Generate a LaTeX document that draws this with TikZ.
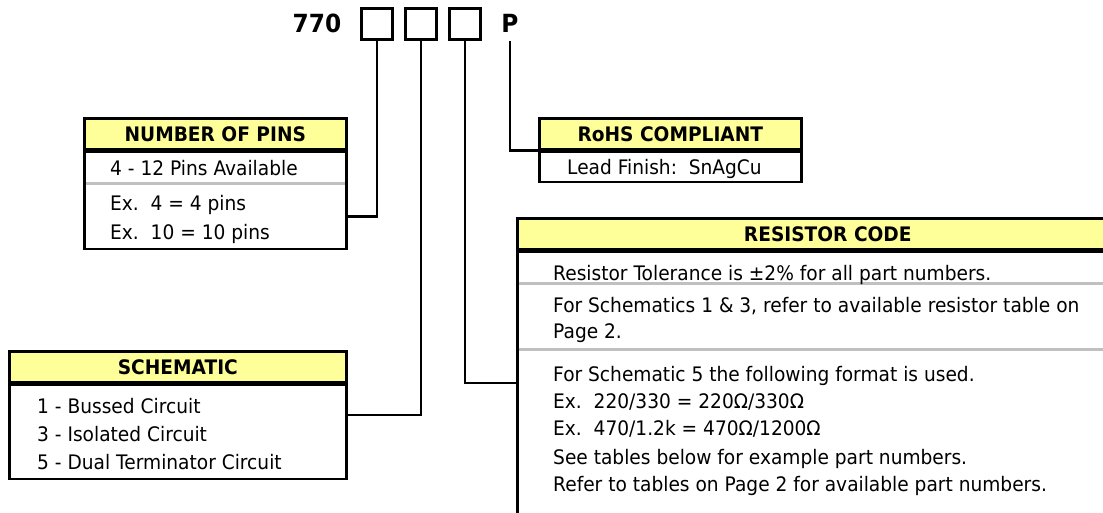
\documentclass[tikz,border=0pt]{standalone}
\usepackage{fontspec}
\setmainfont[FakeStretch=0.93]{DejaVu Sans}
\usetikzlibrary{positioning}
\usetikzlibrary{calc}

\definecolor{headyellow}{HTML}{FFFF99}
\definecolor{sepgray}{HTML}{C0C0C0}

\begin{document}
\begin{tikzpicture}[x=1pt, y=-1pt, node distance=0pt,
            every node/.style={font=\fontsize{20}{24}\selectfont},
            hdr/.style={draw=black, line width=2.6pt, fill=headyellow, rectangle, anchor=north west,
            minimum height=31pt, inner sep=0pt, text height=14.5pt, text depth=0pt,
            font=\fontsize{20}{24}\selectfont\bfseries},
            panel/.style={draw=black, line width=2.6pt, fill=white, rectangle, inner sep=0pt},
            slot/.style={draw=black, line width=2.6pt, rectangle, minimum size=31pt, inner sep=0pt},
            code/.style={inner xsep=0pt, text height=17pt, text depth=0pt,
            font=\fontsize{25}{30}\selectfont\bfseries},
            txt/.style={anchor=west, inner sep=0pt, text height=14.5pt, text depth=0pt},
            wire/.style={line width=2.8pt},
            divider/.style={draw=sepgray, line width=3pt, shorten <=2.6pt, shorten >=2.6pt}]
        \useasboundingbox (0,0) rectangle (1103,513);

        % part number row
        \node[code, inner ysep=0pt] (prefix) at (317,24) {770};
        \node[slot] (pins) at (377,24) {};
        \node[slot] (schem) at (421,24) {};
        \node[slot] (rcode) at (465,24) {};
        \node[code, inner ysep=8pt] (suffix) at (510,24) {P};

        % number of pins
        \node[hdr, minimum width=262pt] (pinshead) at (83,117) {NUMBER OF PINS};
        \node[panel, minimum width=262pt, minimum height=97pt, below=of pinshead] (pinsbody) {};
        \draw[divider] ([yshift=-33pt]pinsbody.north west) -- ([yshift=-33pt]pinsbody.north east);
        \node[txt] (pinsa) at (110,168) {4 - 12 Pins Available};
        \node[txt] (pinsb) at (110,203) {Ex.\ \ 4 = 4 pins};
        \node[txt] (pinsc) at (110,232) {Ex.\ \ 10 = 10 pins};

        % schematic
        \node[hdr, minimum width=337pt] (schemhead) at (8,350) {SCHEMATIC};
        \node[panel, minimum width=337pt, minimum height=94pt, below=of schemhead] (schembody) {};
        \node[txt] (schema) at (37,406) {1 - Bussed Circuit};
        \node[txt] (schemb) at (37,434) {3 - Isolated Circuit};
        \node[txt] (schemc) at (37,462) {5 - Dual Terminator Circuit};

        % rohs
        \node[hdr, minimum width=262pt] (rohshead) at (538,117) {RoHS COMPLIANT};
        \node[panel, minimum width=262pt, minimum height=30pt, below=of rohshead] (rohsbody) {};
        \node[txt] (rohsa) at (567,167) {Lead Finish:\ \ SnAgCu};

        % resistor code
        \node[hdr, minimum width=621pt] (rcodehead) at (516,217) {RESISTOR CODE};
        \node[panel, minimum width=621pt, minimum height=300pt, below=of rcodehead] (rcodebody) {};
        \draw[divider] ([yshift=-33pt]rcodebody.north west) -- ([yshift=-33pt]rcodebody.north east);
        \draw[divider] ([yshift=-99pt]rcodebody.north west) -- ([yshift=-99pt]rcodebody.north east);
        \node[txt] (rcodea) at (553,273) {Resistor Tolerance is ±2\% for all part numbers.};
        \node[txt] (rcodeb) at (553,305) {For Schematics 1 \& 3, refer to available resistor table on};
        \node[txt] (rcodec) at (553,331) {Page 2.};
        \node[txt] (rcoded) at (553,374) {For Schematic 5 the following format is used.};
        \node[txt] (rcodee) at (553,401) {Ex.\ \ 220/330 = 220Ω/330Ω};
        \node[txt] (rcodef) at (553,428) {Ex.\ \ 470/1.2k = 470Ω/1200Ω};
        \node[txt] (rcodeg) at (553,457) {See tables below for example part numbers.};
        \node[txt] (rcodeh) at (553,484) {Refer to tables on Page 2 for available part numbers.};

        \draw[wire] (pins.south) |- ([yshift=-16pt]pinsbody.east);
        \draw[wire] (schem.south) |- ([yshift=17pt]schembody.east);
        \draw[wire] (rcode.south) |- ([yshift=19pt]rcodebody.west);
        \draw[wire] (suffix.south) |- (rohshead.south west);
    \end{tikzpicture}
\end{document}
